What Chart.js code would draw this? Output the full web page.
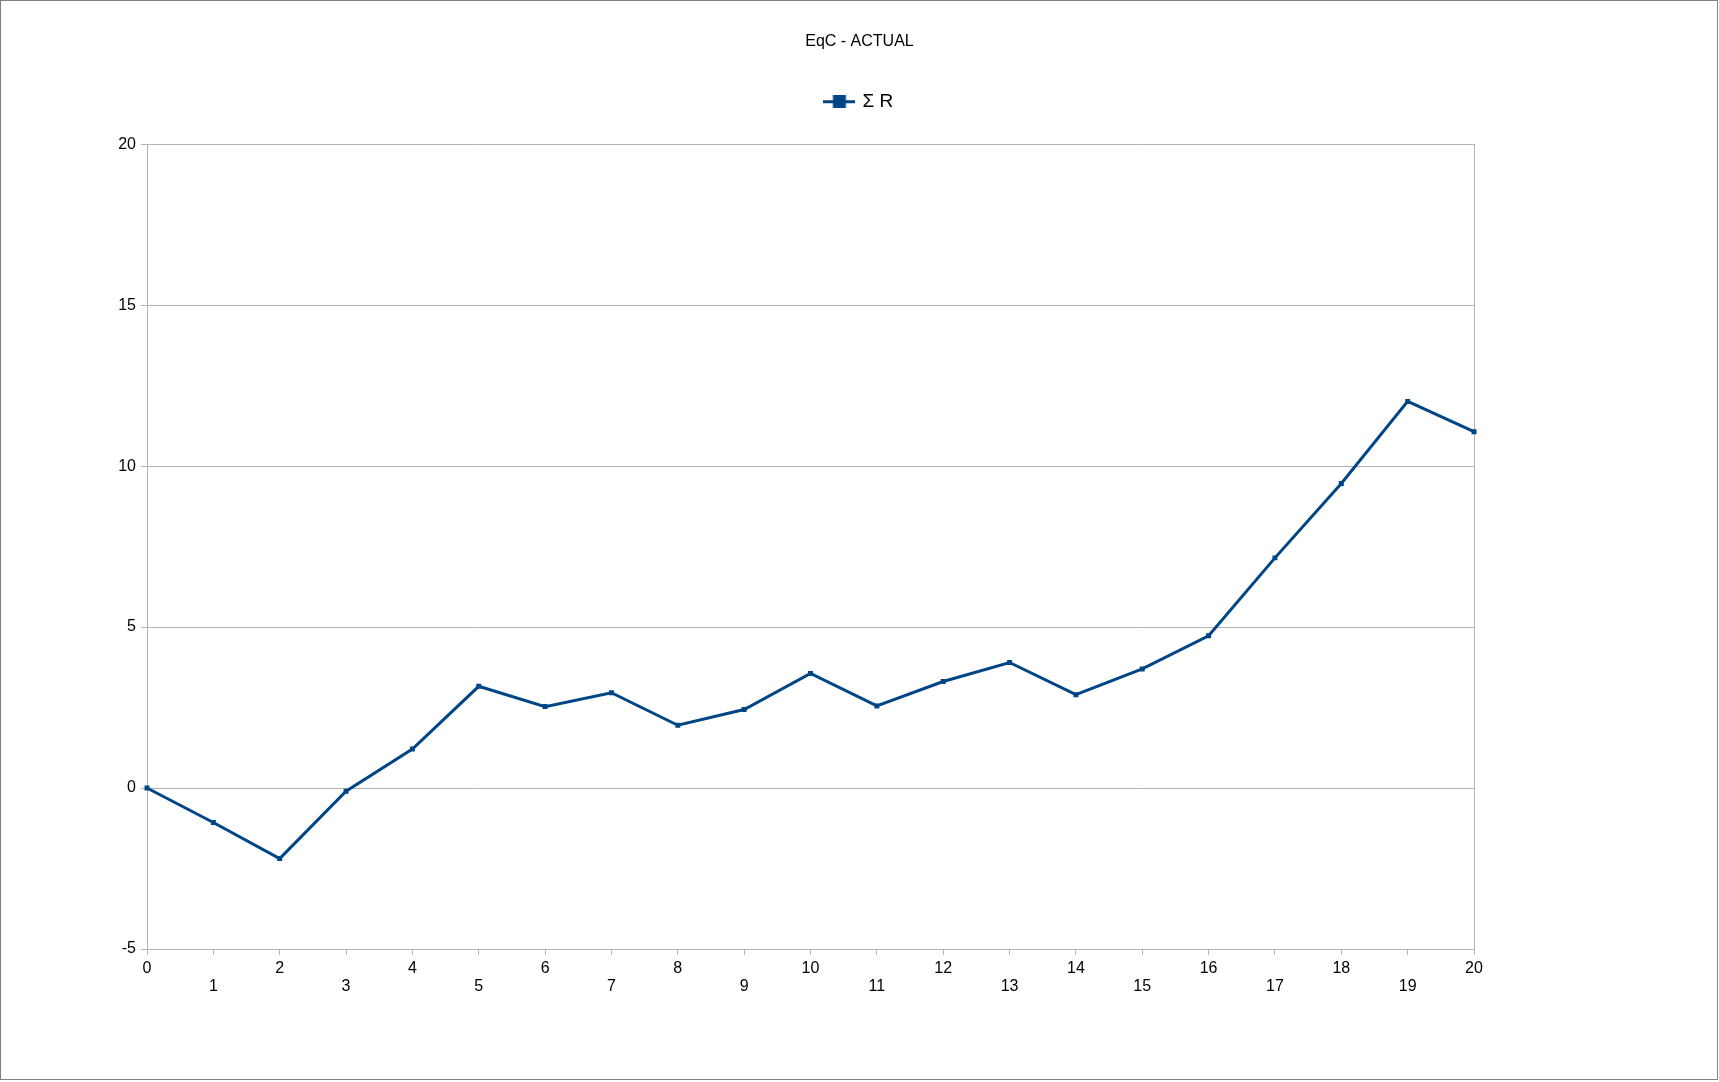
<!DOCTYPE html>
<html>
<head>
<meta charset="utf-8">
<title>EqC - ACTUAL</title>
<script src="https://cdn.jsdelivr.net/npm/chart.js@4"></script>
<style>
    html, body { margin: 0; padding: 0; background: #fff; }
    canvas { display: block; }
</style>
</head>
<body>
<canvas id="canvas1" width="1719" height="1082"></canvas>
<script>
var chartTitle = "EqC - ACTUAL";
var seriesName = "Σ R";
var tradeLabels = ["0", "1", "2", "3", "4", "5", "6", "7", "8", "9", "10",
    "11", "12", "13", "14", "15", "16", "17", "18", "19", "20"];
var sumR = [0, -1.07, -2.19, -0.1, 1.21, 3.16, 2.53, 2.96, 1.95, 2.44, 3.56,
    2.55, 3.31, 3.9, 2.9, 3.7, 4.73, 7.15, 9.46, 12.01, 11.07];
var yMin = -5, yMax = 20, yStep = 5;

var lineColor = "#004586";
var gridColor = "#b3b3b3";
var fontFamily = "'Liberation Sans', Arial, sans-serif";

// legend symbol: short line with a square in the middle
function legendSymbol() {
    var c = document.createElement("canvas");
    c.width = 32;
    c.height = 13;
    var g = c.getContext("2d");
    g.strokeStyle = lineColor;
    g.lineWidth = 3;
    g.beginPath();
    g.moveTo(0, 6.5);
    g.lineTo(32, 6.5);
    g.stroke();
    g.fillStyle = lineColor;
    g.fillRect(9.5, 0, 13, 13);
    return c;
}

var pagePlugin = {
    id: "page",
    afterInit: function (chart) {
        // leave room under the legend like the original sheet
        var lg = chart.legend;
        if (lg) {
            var fit = lg.fit;
            lg.fit = function () {
                fit.call(this);
                this.height += 23;
            };
        }
    },
    beforeDraw: function (chart) {
        var ctx = chart.ctx;
        ctx.save();
        ctx.fillStyle = "#fff";
        ctx.fillRect(0, 0, chart.width, chart.height);
        ctx.strokeStyle = "#808080";
        ctx.lineWidth = 1;
        ctx.strokeRect(0.5, 0.5, 1717, 1079);
        ctx.restore();
    }
};

new Chart(document.getElementById("canvas1"), {
    type: "line",
    data: {
        labels: tradeLabels,
        datasets: [{
            label: seriesName,
            data: sumR,
            borderColor: lineColor,
            backgroundColor: lineColor,
            borderWidth: 3,
            pointStyle: "rect",
            pointRadius: 3.5,
            pointBorderWidth: 0,
            tension: 0,
            fill: false
        }]
    },
    options: {
        responsive: false,
        animation: false,
        layout: { padding: 0 },
        plugins: {
            title: {
                display: true,
                text: chartTitle,
                color: "#000",
                font: { family: fontFamily, size: 16, weight: "normal" },
                padding: { top: 32, bottom: 10 }
            },
            legend: {
                display: true,
                position: "top",
                labels: {
                    color: "#000",
                    font: { family: fontFamily, size: 19 },
                    usePointStyle: true,
                    pointStyle: legendSymbol(),
                    pointStyleWidth: 27,
                    padding: 31
                }
            },
            tooltip: { enabled: false }
        },
        scales: {
            x: {
                type: "category",
                offset: false,
                afterFit: function (s) { s.height = 133; },
                grid: {
                    display: true,
                    drawOnChartArea: false,
                    drawTicks: true,
                    tickLength: 6,
                    color: gridColor
                },
                border: { display: true, color: gridColor },
                ticks: {
                    color: "#000",
                    autoSkip: false,
                    maxRotation: 0,
                    padding: 4,
                    font: { family: fontFamily, size: 16, lineHeight: 1.15 },
                    callback: function (value, index) {
                        var t = this.getLabelForValue(value);
                        return index % 2 === 1 ? ["", t] : t;
                    }
                }
            },
            y: {
                position: "left",
                min: yMin,
                max: yMax,
                afterFit: function (s) { s.width = 147; },
                grid: {
                    color: gridColor,
                    drawTicks: true,
                    tickLength: 6
                },
                border: { display: true, color: gridColor },
                ticks: {
                    stepSize: yStep,
                    color: "#000",
                    padding: 5,
                    font: { family: fontFamily, size: 16 }
                }
            },
            yRight: {
                position: "right",
                afterFit: function (s) { s.width = 245; },
                grid: { drawOnChartArea: false, drawTicks: false },
                border: { display: true, color: gridColor },
                ticks: { display: false }
            }
        }
    },
    plugins: [pagePlugin]
});
</script>
</body>
</html>
